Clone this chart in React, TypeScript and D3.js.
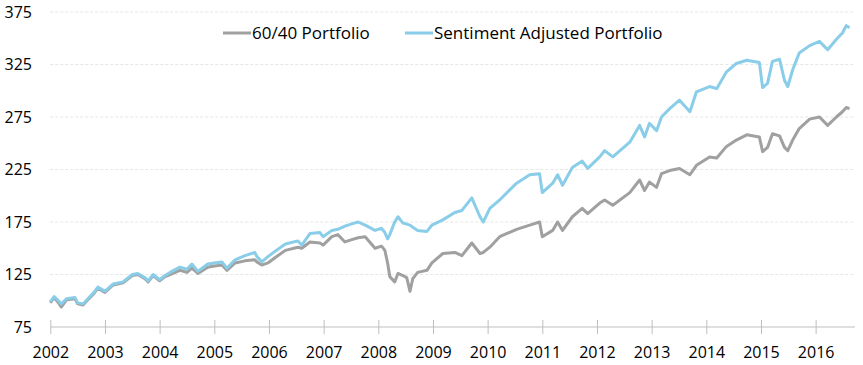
import React, { useEffect, useRef } from 'react';
import * as d3 from 'd3';

// Dates as fractional years
const dates = [
  2002.00, 2002.07, 2002.15, 2002.20, 2002.30, 2002.45, 2002.50, 2002.60, 2002.67, 2002.80,
  2002.87, 2003.00, 2003.15, 2003.33, 2003.50, 2003.60, 2003.73, 2003.79, 2003.88, 2004.00,
  2004.10, 2004.19, 2004.37, 2004.50, 2004.59, 2004.70, 2004.88, 2005.00, 2005.14, 2005.23,
  2005.38, 2005.56, 2005.74, 2005.78, 2005.87, 2005.98, 2006.11, 2006.30, 2006.53, 2006.60,
  2006.75, 2006.93, 2006.99, 2007.15, 2007.26, 2007.39, 2007.50, 2007.63, 2007.76, 2007.94,
  2008.06, 2008.12, 2008.17, 2008.21, 2008.30, 2008.36, 2008.45, 2008.52, 2008.58, 2008.63,
  2008.72, 2008.89, 2008.98, 2009.18, 2009.40, 2009.53, 2009.71, 2009.86, 2009.92, 2010.04,
  2010.22, 2010.53, 2010.77, 2010.95, 2011.00, 2011.19, 2011.28, 2011.37, 2011.55, 2011.73,
  2011.83, 2012.05, 2012.14, 2012.29, 2012.60, 2012.78, 2012.87, 2012.96, 2013.09, 2013.18,
  2013.33, 2013.51, 2013.70, 2013.82, 2014.06, 2014.19, 2014.37, 2014.55, 2014.74, 2014.97,
  2015.03, 2015.12, 2015.21, 2015.34, 2015.43, 2015.49, 2015.58, 2015.70, 2015.89, 2016.07,
  2016.22, 2016.38, 2016.49, 2016.56, 2016.62,
];

// 60/40 Portfolio
const balanced = [
  98, 103, 98, 94, 101, 102, 97, 96, 100, 107,
  112, 108, 115, 117, 124, 125, 121, 118, 124, 119,
  123, 125, 129, 127, 131, 126, 132, 133, 134, 129,
  136, 138, 139, 137, 134, 136, 141, 148, 151, 150,
  156, 155, 153, 161, 163, 156, 158, 160, 161, 150,
  152, 148, 136, 123, 118, 126, 124, 122, 109, 121,
  127, 129, 136, 145, 146, 143, 155, 145, 146, 151,
  161, 168, 172, 175, 161, 167, 175, 167, 180, 188,
  183, 193, 196, 191, 203, 215, 205, 213, 208, 221,
  224, 226, 220, 229, 237, 236, 247, 253, 258, 256,
  242, 246, 259, 257, 246, 243, 253, 264, 273, 275,
  267, 275, 280, 284, 283,
];

// Sentiment Adjusted Portfolio
const sentiment = [
  99, 104, 100, 97, 102, 103, 98, 97, 101, 108,
  113, 109, 116, 118, 125, 126, 122, 119, 125, 120,
  124, 127, 132, 130, 135, 128, 135, 136, 137, 131,
  139, 143, 146, 142, 137, 142, 147, 154, 157, 153,
  164, 165, 161, 167, 168, 171, 173, 175, 172, 167,
  169, 165, 159, 163, 175, 180, 174, 173, 172, 170,
  167, 166, 172, 177, 184, 186, 198, 180, 175, 188,
  196, 212, 220, 221, 203, 212, 220, 210, 227, 233,
  226, 237, 243, 237, 251, 267, 256, 269, 262, 275,
  283, 291, 280, 299, 304, 302, 318, 326, 329, 327,
  303, 307, 328, 330, 310, 304, 320, 336, 343, 347,
  339, 349, 355, 362, 360,
];

const yTicks = [75, 125, 175, 225, 275, 325, 375];
const yearTicks = [2002, 2003, 2004, 2005, 2006, 2007, 2008, 2009, 2010, 2011, 2012, 2013, 2014, 2015, 2016];

const seriesNames = ['60/40 Portfolio', 'Sentiment Adjusted Portfolio'];
const seriesColors = ['#a0a0a0', '#89cde9'];

const App = () => {
  const svgRef = useRef(null);

  const width = 863;
  const height = 365;
  const font = "'Open Sans', sans-serif";

  useEffect(() => {
    if (!svgRef.current) return;
    const svg = d3.select(svgRef.current);
    svg.selectAll('*').remove();

    const x = d3.scaleLinear().domain([2002, 2016.72]).range([50.3, 855]);
    const y = d3.scaleLinear().domain([75, 375]).range([327, 12]);

    // Gridlines
    svg.append('g')
      .selectAll('line')
      .data(yTicks.slice(1))
      .enter()
      .append('line')
      .attr('x1', x(2002))
      .attr('x2', x(2016.72))
      .attr('y1', d => y(d))
      .attr('y2', d => y(d))
      .attr('stroke', '#e6e6e6')
      .attr('stroke-width', 1)
      .attr('stroke-dasharray', '3,2');

    // Y labels
    svg.append('g')
      .selectAll('text')
      .data(yTicks)
      .enter()
      .append('text')
      .attr('x', 32)
      .attr('y', d => y(d))
      .attr('dy', '0.35em')
      .attr('text-anchor', 'end')
      .style('font-family', font)
      .style('font-size', '16px')
      .attr('fill', '#000')
      .text(d => d);

    // X axis
    const xAxis = d3.axisBottom(x)
      .tickValues(yearTicks)
      .tickSize(7)
      .tickPadding(13)
      .tickFormat(d3.format('d'));

    const gx = svg.append('g')
      .attr('transform', `translate(0,${y(75)})`)
      .call(xAxis);
    gx.select('.domain').attr('stroke', '#bfbfbf').attr('d', `M${x(2002)},0H${x(2016.72)}`);
    gx.selectAll('.tick line').attr('stroke', '#bfbfbf').attr('y1', -7).attr('y2', 7);
    gx.selectAll('.tick text')
      .style('font-family', font)
      .style('font-size', '16px')
      .attr('fill', '#000');

    // Lines
    const line = d3.line()
      .x(d => x(d[0]))
      .y(d => y(d[1]));

    [balanced, sentiment].forEach((values, i) => {
      const pts = dates.map((t, j) => [t, values[j]]);
      svg.append('path')
        .datum(pts)
        .attr('fill', 'none')
        .attr('stroke', seriesColors[i])
        .attr('stroke-width', 3)
        .attr('stroke-linejoin', 'round')
        .attr('d', line);
    });

    // Legend
    const legendX = [223, 405];
    seriesNames.forEach((name, i) => {
      const g = svg.append('g').attr('transform', `translate(${legendX[i]},33)`);
      g.append('line')
        .attr('x1', 0)
        .attr('x2', 28)
        .attr('stroke', seriesColors[i])
        .attr('stroke-width', 3);
      g.append('text')
        .attr('x', 29)
        .attr('y', 0)
        .attr('dy', '0.35em')
        .style('font-family', font)
        .style('font-size', '17px')
        .attr('fill', '#000')
        .text(name);
    });
  }, []);

  return (
    <svg
      ref={svgRef}
      width={width}
      height={height}
      style={{ position: 'absolute', left: 0, top: 0, background: '#fff' }}
    ></svg>
  );
};

export default App;
